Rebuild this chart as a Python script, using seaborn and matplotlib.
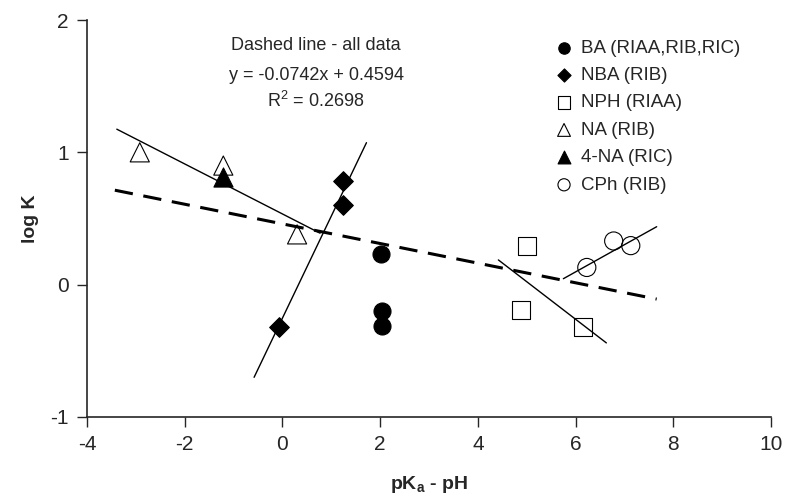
import matplotlib
matplotlib.use("Agg")
import matplotlib.pyplot as plt
import seaborn as sns
import pandas as pd

# ---- data ----
ba_x = [2.01, 2.03, 2.03]
ba_y = [0.23, -0.20, -0.31]
nba_x = [-0.07, 1.23, 1.23]
nba_y = [-0.32, 0.60, 0.78]
nph_x = [5.00, 4.89, 6.15]
nph_y = [0.29, -0.19, -0.32]
na_x = [-2.92, -1.21, 0.30]
na_y = [1.00, 0.90, 0.38]
na4_x = [-1.21]
na4_y = [0.81]
cph_x = [6.23, 6.78, 7.13]
cph_y = [0.13, 0.33, 0.295]

labels = ["BA (RIAA,RIB,RIC)", "NBA (RIB)", "NPH (RIAA)", "NA (RIB)", "4-NA (RIC)", "CPh (RIB)"]

# group fit lines (end points)
na_line_x = [-3.39, 0.77]
na_line_y = [1.175, 0.389]
nba_line_x = [-0.58, 1.72]
nba_line_y = [-0.70, 1.073]
nph_line_x = [4.42, 6.63]
nph_line_y = [0.187, -0.44]
cph_line_x = [5.75, 7.66]
cph_line_y = [0.045, 0.438]
# all-data fit
all_slope = -0.0742
all_intercept = 0.4594
all_line_x = [-3.43, 7.66]

x_ticks = [-4, -2, 0, 2, 4, 6, 8, 10]
y_ticks = [-1, 0, 1, 2]

sns.set_style("ticks")
plt.rcParams['font.family'] = ['Liberation Sans', 'DejaVu Sans']
plt.rcParams['axes.unicode_minus'] = False

fig = plt.figure(figsize=(7.86, 4.98), dpi=100)
ax = fig.add_axes([87/786, 1-417/498, 684/786, 397/498])

# lines
for lx, ly in [(na_line_x, na_line_y), (nba_line_x, nba_line_y),
               (nph_line_x, nph_line_y), (cph_line_x, cph_line_y)]:
    sns.lineplot(x=lx, y=ly, ax=ax, color="black", linewidth=1.0,
                 estimator=None, sort=False, zorder=2)
all_line_y = [all_slope * v + all_intercept for v in all_line_x]
sns.lineplot(x=all_line_x, y=all_line_y, ax=ax, color="black", linewidth=2.2,
             estimator=None, sort=False, zorder=2, linestyle=(0, (6, 3.5)))

groups = [
    (ba_x, ba_y, "o", "black", 150),
    (nba_x, nba_y, "D", "black", 100),
    (nph_x, nph_y, "s", "none", 170),
    (na_x, na_y, "^", "none", 190),
    (na4_x, na4_y, "^", "black", 190),
    (cph_x, cph_y, "o", "none", 170),
]
handles = []
for (gx, gy, m, fc, s), lab in zip(groups, labels):
    df = pd.DataFrame({"x": gx, "y": gy})
    sns.scatterplot(data=df, x="x", y="y", ax=ax, marker=m, s=s,
                    facecolor=fc, edgecolor="black", linewidth=0.8, zorder=3)
    h = ax.scatter([], [], marker=m, s=s * 0.45, facecolor=fc,
                   edgecolor="black", linewidth=0.8, label=lab)
    handles.append(h)

ax.legend(handles=handles, loc="upper left", bbox_to_anchor=(0.67, 0.97),
          frameon=False, fontsize=13.5, handletextpad=0.3, labelspacing=0.55,
          borderaxespad=0, handlelength=1.2)

ax.set_xlim(-4, 10)
ax.set_ylim(-1, 2)
ax.set_xticks(x_ticks)
ax.set_yticks(y_ticks)
ax.tick_params(axis="both", labelsize=15, length=7, width=1.0, direction="out", pad=6)
for sp in ["top", "right"]:
    ax.spines[sp].set_visible(False)
for sp in ["left", "bottom"]:
    ax.spines[sp].set_linewidth(1.2)

ax.set_xlabel(r"pK$_\mathregular{a}$ - pH", fontsize=14, fontweight="bold", labelpad=14)
ax.set_ylabel("log K", fontsize=14, fontweight="bold", labelpad=8)

ax.text(0.335, 0.935, "Dashed line - all data", transform=ax.transAxes,
        ha="center", va="center", fontsize=13)
ax.text(0.335, 0.861, "y = -0.0742x + 0.4594", transform=ax.transAxes,
        ha="center", va="center", fontsize=13)
ax.text(0.335, 0.795, r"R$^\mathregular{2}$ = 0.2698", transform=ax.transAxes,
        ha="center", va="center", fontsize=13)

fig.savefig("out.png", dpi=100)
